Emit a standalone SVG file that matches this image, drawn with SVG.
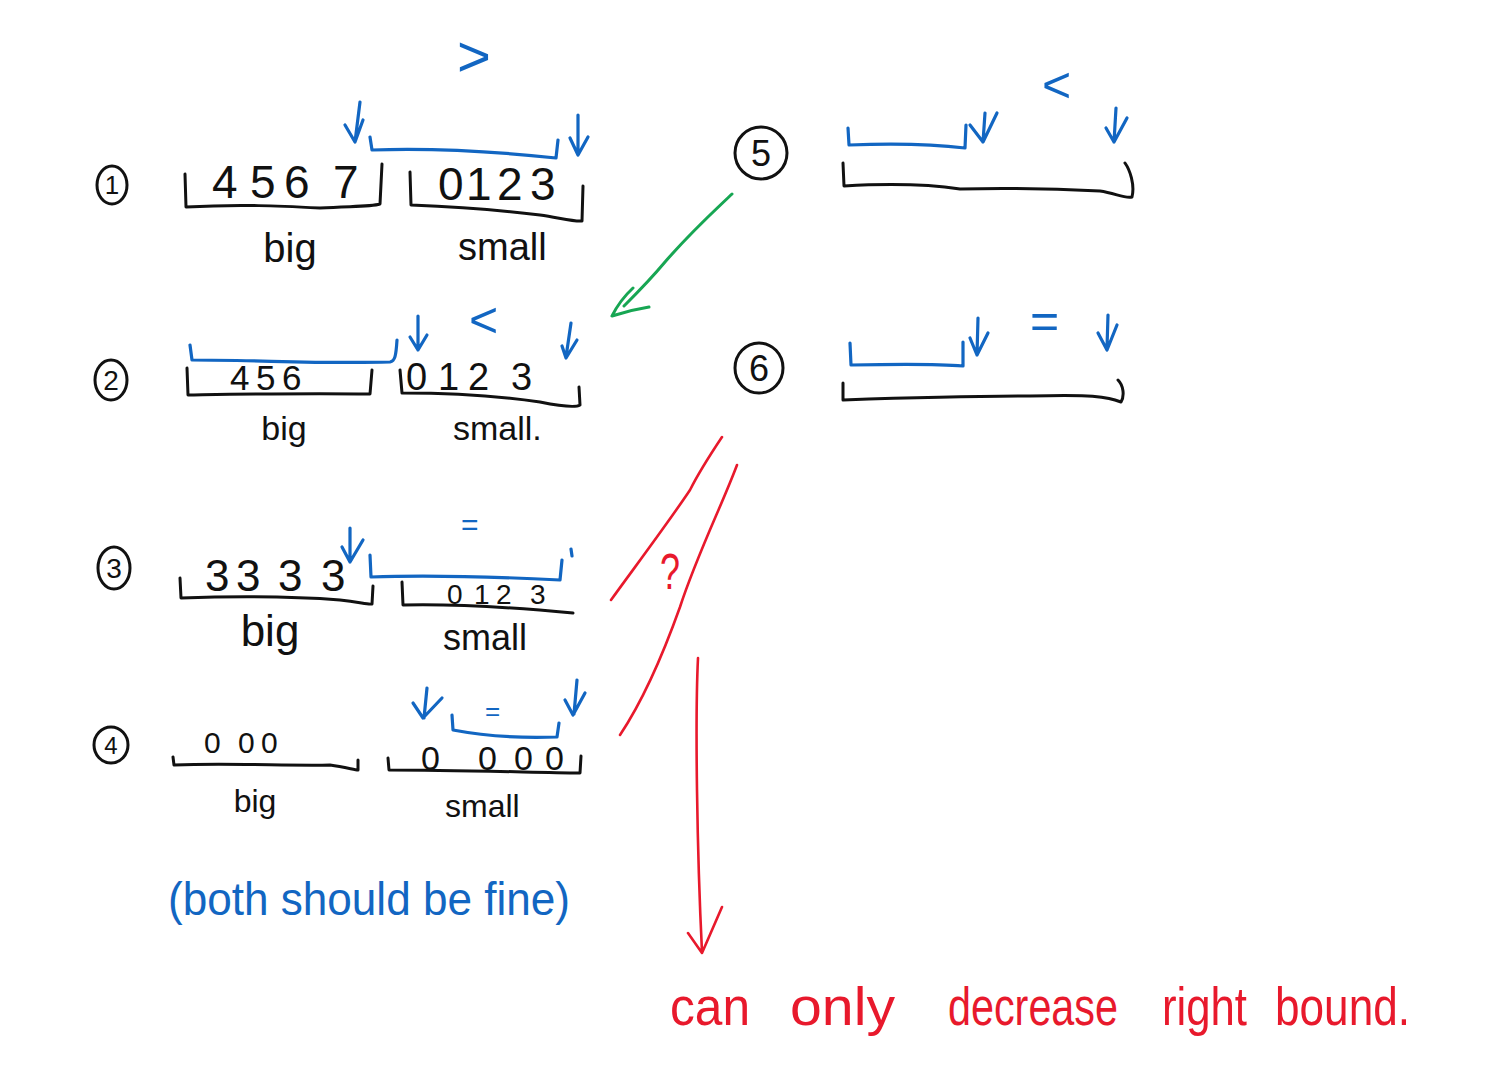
<svg xmlns="http://www.w3.org/2000/svg" width="1505" height="1090" viewBox="0 0 1505 1090">
<style>
.k{stroke:#111;fill:none;stroke-width:3;stroke-linecap:round;stroke-linejoin:round}
.b{stroke:#1266c2;fill:none;stroke-width:3.2;stroke-linecap:round;stroke-linejoin:round}
.r{stroke:#e8192c;fill:none;stroke-width:2.6;stroke-linecap:round;stroke-linejoin:round}
.g{stroke:#17a653;fill:none;stroke-width:3;stroke-linecap:round;stroke-linejoin:round}
text{font-family:"Liberation Sans","DejaVu Sans",sans-serif}
.tk{fill:#111}
.tb{fill:#1266c2}
.tr{fill:#e8192c}
</style>
<rect width="1505" height="1090" fill="#fff"/>

<g id="case1">
  <ellipse class="k" cx="112" cy="185" rx="15" ry="19" stroke-width="2.4"/>
  <text class="tk" x="112" y="194" font-size="26" text-anchor="middle">1</text>
  <path class="k" d="M185,174 L186,207 C240,204 280,206 320,208 C350,206 370,207 380,204 L382,164"/>
  <text class="tk" x="212 250 284 333" y="198" font-size="46">4567</text>
  <path class="k" d="M410,172 L411,205 C460,207 500,210 540,215 C560,218 575,222 582,221 L583,186"/>
  <text class="tk" x="438 466 497 530" y="200" font-size="46">0123</text>
  <text class="tk" x="290" y="262" font-size="40" text-anchor="middle">big</text>
  <text class="tk" x="458" y="260" font-size="38">small</text>
  <text class="tb" x="457" y="76" font-size="58">&gt;</text>
  <path class="b" d="M360,102 L355,142 M345,125 L355,142 L363,120"/>
  <path class="b" d="M370,137 L372,150 C430,148 500,152 556,158 L558,140"/>
  <path class="b" d="M578,115 L578,154 M570,138 L578,155 L588,137"/>
</g>

<g id="case2">
  <ellipse class="k" cx="111" cy="380" rx="16" ry="20" stroke-width="2.4"/>
  <text class="tk" x="111" y="390" font-size="28" text-anchor="middle">2</text>
  <path class="b" d="M190,345 L192,360 C260,360 320,364 390,362 C395,361 396,356 397,340"/>
  <path class="k" d="M187,368 L188,395 C250,394 300,393 370,394 L372,370"/>
  <text class="tk" x="230 256 282" y="390" font-size="35">456</text>
  <path class="k" d="M400,370 L402,393 C450,393 500,396 540,402 C560,406 575,408 580,405 L579,387"/>
  <text class="tk" x="406 438 468 511" y="390" font-size="38">0123</text>
  <path class="b" d="M418,316 L418,350 M410,337 L418,350 L427,335"/>
  <text class="tb" x="469" y="337" font-size="50">&lt;</text>
  <path class="b" d="M571,323 L566,357 M562,346 L566,358 L577,340"/>
  <text class="tk" x="284" y="440" font-size="34" text-anchor="middle">big</text>
  <text class="tk" x="453" y="440" font-size="34">small.</text>
</g>

<g id="case3">
  <ellipse class="k" cx="114" cy="568" rx="16" ry="21" stroke-width="2.4"/>
  <text class="tk" x="114" y="578" font-size="28" text-anchor="middle">3</text>
  <text class="tk" x="205 236 278 321" y="591" font-size="44">3333</text>
  <path class="k" d="M180,578 L181,598 C240,596 300,597 340,600 C360,602 368,605 372,604 L373,586"/>
  <path class="b" d="M350,528 L350,562 M342,547 L350,562 L363,540"/>
  <path class="b" d="M370,555 L371,577 C420,575 500,577 560,580 L562,560 M571,549 L572,556"/>
  <text class="tb" x="461" y="535" font-size="30">=</text>
  <path class="k" d="M402,582 L403,605 C450,604 500,606 573,613"/>
  <text class="tk" x="447 474 496 530" y="604" font-size="28">0123</text>
  <text class="tk" x="270" y="646" font-size="44" text-anchor="middle">big</text>
  <text class="tk" x="443" y="650" font-size="36">small</text>
</g>

<g id="case4">
  <ellipse class="k" cx="111" cy="745" rx="17" ry="18" stroke-width="2.4"/>
  <text class="tk" x="111" y="754" font-size="24" text-anchor="middle">4</text>
  <text class="tk" x="204 225 238 261" y="753" font-size="30">0 00</text>
  <path class="k" d="M173,757 L174,765 C230,763 290,766 330,765 C345,767 355,770 358,770 L358,760"/>
  <path class="k" d="M388,758 L389,770 C450,770 520,772 580,773 L581,756"/>
  <text class="tk" x="421 450 478 514 545" y="770" font-size="34">0 000</text>
  <path class="b" d="M427,688 L424,718 M413,703 L423,718 L442,698"/>
  <path class="b" d="M452,715 L453,730 C490,737 530,738 557,737 L559,723"/>
  <text class="tb" x="485" y="720" font-size="26">=</text>
  <path class="b" d="M577,680 L574,714 M565,700 L573,715 L585,693"/>
  <text class="tk" x="255" y="812" font-size="32" text-anchor="middle">big</text>
  <text class="tk" x="445" y="817" font-size="32">small</text>
  <text class="tb" x="168" y="915" font-size="46" textLength="402" lengthAdjust="spacingAndGlyphs">(both should be fine)</text>
</g>

<g id="case5">
  <ellipse class="k" cx="761" cy="153" rx="26" ry="26" stroke-width="2.4"/>
  <text class="tk" x="761" y="166" font-size="36" text-anchor="middle">5</text>
  <text class="tb" x="1042" y="102" font-size="50">&lt;</text>
  <path class="b" d="M848,128 L849,145 C900,143 940,145 965,148 L966,125"/>
  <path class="b" d="M985,113 L983,142 M970,125 L983,142 L997,113"/>
  <path class="b" d="M1116,108 L1114,142 M1106,128 L1114,142 L1127,118"/>
  <path class="k" d="M843,163 L844,186 C880,184 920,183 960,189 C1000,188 1060,189 1100,191 C1115,193 1125,199 1132,197 C1135,185 1130,170 1125,163"/>
</g>

<g id="case6">
  <ellipse class="k" cx="759" cy="368" rx="24" ry="25" stroke-width="2.4"/>
  <text class="tk" x="759" y="381" font-size="36" text-anchor="middle">6</text>
  <path class="b" d="M850,343 L851,365 C900,364 940,364 963,366 L963,342"/>
  <path class="b" d="M978,318 L977,355 M970,338 L977,355 L988,333"/>
  <text class="tb" x="1030" y="338" font-size="50">=</text>
  <path class="b" d="M1108,315 L1107,348 M1098,333 L1107,350 L1117,325"/>
  <path class="k" d="M843,383 L843,400 C900,398 960,396 1030,396 C1070,395 1100,395 1115,400 L1121,402 C1125,395 1123,385 1118,380"/>
</g>

<g id="connectors">
  <path class="g" d="M732,194 C712,213 690,233 665,262 C650,280 635,295 624,306 M633,288 Q620,300 612,316 Q630,310 649,307"/>
  <path class="r" d="M722,437 C710,455 700,470 690,490 C670,520 640,560 611,600"/>
  <path class="r" d="M737,465 C722,505 697,555 680,607 C670,635 650,690 620,735"/>
  <path class="r" d="M698,658 C695,720 697,850 702,952 M688,933 L702,953 L722,907"/>
</g>

<g id="notes">
  <text class="tr" x="660" y="589" font-size="50" textLength="20" lengthAdjust="spacingAndGlyphs">?</text>
  <text class="tr" y="1025" font-size="54"><tspan x="670" textLength="80" lengthAdjust="spacingAndGlyphs">can</tspan> <tspan x="790" textLength="105" lengthAdjust="spacingAndGlyphs">only</tspan> <tspan x="948" textLength="170" lengthAdjust="spacingAndGlyphs">decrease</tspan> <tspan x="1162" textLength="85" lengthAdjust="spacingAndGlyphs">right</tspan> <tspan x="1275" textLength="135" lengthAdjust="spacingAndGlyphs">bound.</tspan></text>
</g>
</svg>
